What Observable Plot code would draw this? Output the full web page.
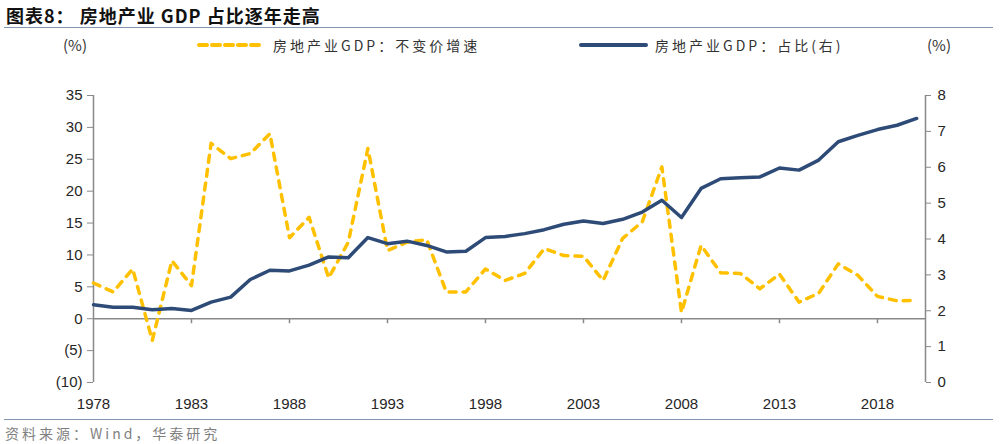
<!DOCTYPE html>
<html>
<head>
<meta charset="utf-8">
<script src="https://cdn.jsdelivr.net/npm/d3@7"></script>
<script src="https://cdn.jsdelivr.net/npm/@observablehq/plot@0.6"></script>
<style>
  html, body { margin: 0; padding: 0; background: #fff; }
  body { width: 1000px; height: 444px; position: relative; overflow: hidden;
         font-family: "Noto Sans CJK SC", "Noto Sans", sans-serif; }
  #title { position: absolute; left: 6px; top: 2px; font-size: 18px; font-weight: bold;
           color: #111; letter-spacing: 1px; line-height: 26px; white-space: nowrap; }
  .hr { position: absolute; left: 4px; width: 989px; height: 0; border-top: 1.6px solid #8497b0; }
  .lab { position: absolute; font-size: 14px; color: #333; white-space: nowrap; line-height: 20px; }
  .leg { position: absolute; display: flex; align-items: center; font-size: 14px; color: #333;
         letter-spacing: 3px; white-space: nowrap; line-height: 20px; }
  .leg svg { margin-right: 7px; }
  #chart { position: absolute; left: 0; top: 60px; }
  #source { position: absolute; left: 5px; top: 423px; font-size: 14px; color: #7f7f7f;
            letter-spacing: 3px; line-height: 20px; white-space: nowrap; }
</style>
</head>
<body>
<div id="title">图表8： 房地产业 GDP 占比逐年走高</div>
<div class="hr" style="top:27px"></div>
<div class="lab" style="left:63px; top:35px; font-size:15px;">(%)</div>
<div class="lab" style="left:927px; top:35px; font-size:15px;">(%)</div>
<div class="leg" style="left:196px; top:35px;">
  <svg width="70" height="8"><line x1="3" y1="4" x2="67" y2="4" stroke="#FFC000" stroke-width="4" stroke-dasharray="8,5" stroke-linecap="round"/></svg>
  <span id="leg1"></span>
</div>
<div class="leg" style="left:578px; top:35px;">
  <svg width="70" height="8"><line x1="3" y1="4" x2="68" y2="4" stroke="#2D4B76" stroke-width="4" stroke-linecap="round"/></svg>
  <span id="leg2"></span>
</div>
<div id="chart"></div>
<div class="hr" style="top:419px"></div>
<div id="source">资料来源：Wind，华泰研究</div>
<script>
// ---- data ----
const years = [1978,1979,1980,1981,1982,1983,1984,1985,1986,1987,
               1988,1989,1990,1991,1992,1993,1994,1995,1996,1997,
               1998,1999,2000,2001,2002,2003,2004,2005,2006,2007,
               2008,2009,2010,2011,2012,2013,2014,2015,2016,2017,
               2018,2019,2020];
// 房地产业GDP：不变价增速 (%, left axis)
const growth = [5.6,4.2,7.8,-3.4,9.1,5.2,27.5,25.1,25.9,29.0,
                12.7,15.9,6.4,12.0,26.7,10.7,12.0,12.4,4.2,4.2,
                7.8,6.0,7.1,11.0,9.9,9.8,6.0,12.6,15.2,23.8,
                1.0,11.5,7.2,7.1,4.7,7.0,2.6,4.0,8.6,6.8,
                3.5,2.8,2.9];
// 房地产业GDP：占比 (%, right axis)
const share = [2.17,2.10,2.10,2.03,2.06,2.01,2.24,2.38,2.87,3.13,
               3.11,3.27,3.50,3.48,4.04,3.87,3.94,3.82,3.64,3.66,
               4.04,4.07,4.15,4.26,4.41,4.50,4.43,4.55,4.75,5.08,
               4.60,5.41,5.68,5.71,5.73,5.98,5.92,6.20,6.71,6.89,
               7.05,7.17,7.36];
const seriesNames = ["房地产业GDP：不变价增速", "房地产业GDP：占比(右)"];
const leftTicks = [-10,-5,0,5,10,15,20,25,30,35];
const rightTicks = [0,1,2,3,4,5,6,7,8];
const xTicks = [1978,1983,1988,1993,1998,2003,2008,2013,2018];
const leftDomain = [-10, 35];
const rightDomain = [0, 8];
const xDomain = [1978, 2020.45];

document.getElementById("leg1").textContent = seriesNames[0];
document.getElementById("leg2").textContent = seriesNames[1];

const k = (leftDomain[1] - leftDomain[0]) / (rightDomain[1] - rightDomain[0]);
const toLeft = v => leftDomain[0] + (v - rightDomain[0]) * k;
const fromLeft = v => Math.round(rightDomain[0] + (v - leftDomain[0]) / k);

const rows = years.map((year, i) => ({year, growth: growth[i], share: share[i]}));
const axisStroke = "#898989";

const chart = Plot.plot({
  width: 1000,
  height: 360,
  marginTop: 35,
  marginBottom: 38,
  marginLeft: 93,
  marginRight: 75,
  x: {domain: xDomain, axis: null},
  y: {domain: leftDomain, axis: null},
  style: {fontFamily: "'Liberation Sans', Arial, sans-serif", fontSize: "15px", color: "#262626", background: "#fff"},
  marks: [
    Plot.ruleY([0], {stroke: axisStroke, strokeWidth: 1.5}),
    Plot.ruleX([xDomain[0]], {stroke: axisStroke, strokeWidth: 1.5}),
    Plot.ruleX([xDomain[1]], {stroke: axisStroke, strokeWidth: 1.5}),
    Plot.ruleX(xTicks.slice(1), {x: d => d, y1: 0, y2: 0, insetBottom: -5, stroke: axisStroke, strokeWidth: 1.5}),
    Plot.axisX(xTicks, {anchor: "bottom", label: null, tickSize: 0, tickPadding: 16, tickFormat: d => String(d), fill: "#262626"}),
    Plot.axisY(leftTicks, {anchor: "left", label: null, tickSize: 6, tickPadding: 5, stroke: axisStroke, fill: "#262626",
      tickFormat: d => d < 0 ? `(${-d})` : `${d}`}),
    Plot.axisY(rightTicks.map(toLeft), {anchor: "right", label: null, tickSize: 5, tickPadding: 7, stroke: axisStroke, fill: "#262626",
      tickFormat: d => String(fromLeft(d))}),
    Plot.line(rows, {x: "year", y: "growth", stroke: "#FFC000", strokeWidth: 3.5,
      strokeDasharray: "7,7", strokeLinecap: "round", strokeLinejoin: "round"}),
    Plot.line(rows, {x: "year", y: d => toLeft(d.share), stroke: "#2D4B76", strokeWidth: 3.5,
      strokeLinejoin: "round", strokeLinecap: "round"})
  ]
});
document.getElementById("chart").appendChild(chart);
</script>
</body>
</html>
